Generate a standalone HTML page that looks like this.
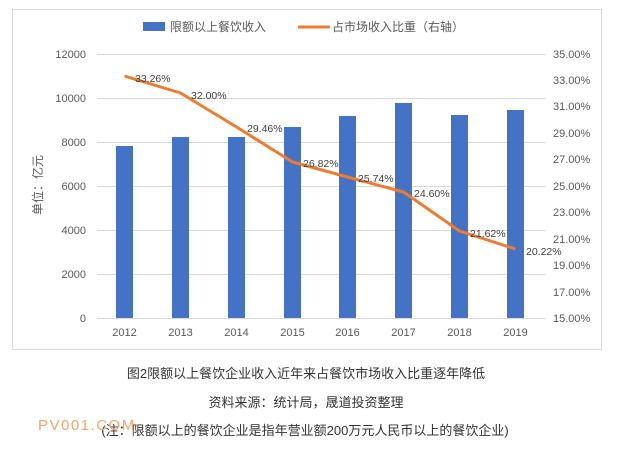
<!DOCTYPE html>
<html><head><meta charset="utf-8"><style>
body{margin:0;background:#fff;width:621px;height:450px;overflow:hidden}
svg text{font-family:"Liberation Sans","Noto Sans CJK SC",sans-serif}
</style></head><body>
<svg width="621" height="450" xmlns="http://www.w3.org/2000/svg">
<rect x="12.5" y="9.5" width="589" height="340" fill="#fff" stroke="#d9d9d9"/>
<g stroke="#d9d9d9" stroke-width="1">
<line x1="97" x2="546" y1="54.5" y2="54.5"/>
<line x1="97" x2="546" y1="98.5" y2="98.5"/>
<line x1="97" x2="546" y1="142.5" y2="142.5"/>
<line x1="97" x2="546" y1="186.5" y2="186.5"/>
<line x1="97" x2="546" y1="230.5" y2="230.5"/>
<line x1="97" x2="546" y1="274.5" y2="274.5"/>
<line x1="97" x2="546" y1="318.5" y2="318.5"/>
</g>
<g fill="#4472c4">
<rect x="116" y="146" width="17" height="172"/>
<rect x="172" y="137" width="17" height="181"/>
<rect x="228" y="137" width="17" height="181"/>
<rect x="284" y="127" width="17" height="191"/>
<rect x="339" y="116" width="17" height="202"/>
<rect x="395" y="103" width="17" height="215"/>
<rect x="451" y="115" width="17" height="203"/>
<rect x="507" y="110" width="17" height="208"/>
</g>
<polyline fill="none" stroke="#ed7d31" stroke-width="3" stroke-linejoin="round" points="124.5,76 180.5,93 236.5,127 292.5,162 347.5,177 403.5,192 459.5,231 515.5,249"/>
<g font-size="10.5" fill="#404040">
<text x="135" y="82">33.26%</text>
<text x="191" y="99">32.00%</text>
<text x="247" y="132">29.46%</text>
<text x="303" y="167">26.82%</text>
<text x="358" y="182">25.74%</text>
<text x="414" y="197">24.60%</text>
<text x="470" y="237">21.62%</text>
<text x="526" y="255">20.22%</text>
</g>
<g font-size="11" fill="#595959" text-anchor="end">
<text x="86" y="58">12000</text>
<text x="86" y="102">10000</text>
<text x="86" y="146">8000</text>
<text x="86" y="190">6000</text>
<text x="86" y="234">4000</text>
<text x="86" y="278">2000</text>
<text x="86" y="322">0</text>
</g>
<g font-size="11" fill="#595959">
<text x="553" y="58">35.00%</text>
<text x="553" y="84">33.00%</text>
<text x="553" y="110">31.00%</text>
<text x="553" y="137">29.00%</text>
<text x="553" y="163">27.00%</text>
<text x="553" y="190">25.00%</text>
<text x="553" y="216">23.00%</text>
<text x="553" y="243">21.00%</text>
<text x="553" y="269">19.00%</text>
<text x="553" y="296">17.00%</text>
<text x="553" y="322">15.00%</text>
</g>
<g font-size="11" fill="#595959" text-anchor="middle">
<text x="124.5" y="336">2012</text>
<text x="180.5" y="336">2013</text>
<text x="236.5" y="336">2014</text>
<text x="292.5" y="336">2015</text>
<text x="347.5" y="336">2016</text>
<text x="403.5" y="336">2017</text>
<text x="459.5" y="336">2018</text>
<text x="515.5" y="336">2019</text>
</g>
<text transform="translate(42,185) rotate(-90)" font-size="12" fill="#595959" text-anchor="middle">单位：亿元</text>
<rect x="143" y="22" width="22" height="9" fill="#4472c4"/>
<text x="170" y="31" font-size="12" fill="#595959">限额以上餐饮收入</text>
<line x1="298" x2="330" y1="27" y2="27" stroke="#ed7d31" stroke-width="3"/>
<text x="332" y="31" font-size="12" fill="#595959">占市场收入比重（右轴）</text>
<g font-size="13" fill="#333" text-anchor="middle">
<text x="306" y="378">图2限额以上餐饮企业收入近年来占餐饮市场收入比重逐年降低</text>
<text x="306" y="407">资料来源：统计局，晟道投资整理</text>
<text x="305" y="435">(注：限额以上的餐饮企业是指年营业额200万元人民币以上的餐饮企业)</text>
</g>
<text x="38" y="430" font-size="15" fill="#f4a46a" letter-spacing="1.5">PV001.COM</text>
</svg>
</body></html>
